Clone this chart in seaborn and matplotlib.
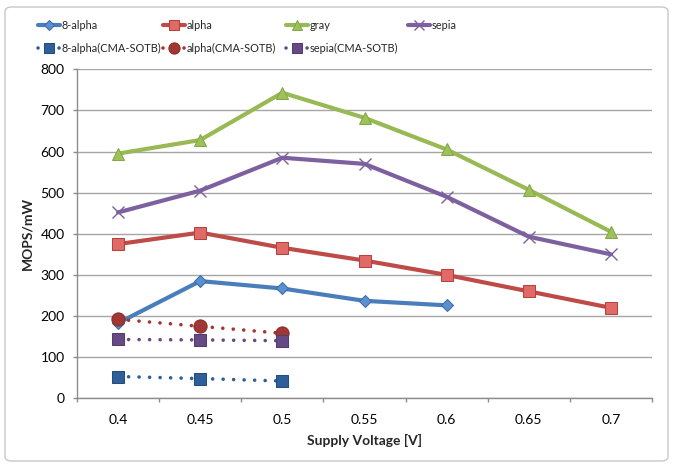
import matplotlib
matplotlib.use("Agg")
import matplotlib.pyplot as plt
import seaborn as sns
import numpy as np
from matplotlib.patches import FancyBboxPatch

voltages = [0.4, 0.45, 0.5, 0.55, 0.6, 0.65, 0.7]
tick_labels = ["0.4", "0.45", "0.5", "0.55", "0.6", "0.65", "0.7"]

alpha8 = [183, 285, 267, 237, 226]
alpha = [375, 403, 366, 335, 300, 260, 220]
gray = [595, 628, 743, 682, 605, 507, 405]
sepia = [452, 505, 585, 570, 490, 393, 350]
alpha8_cma = [53, 48, 42]
alpha_cma = [192, 175, 158]
sepia_cma = [143, 142, 140]

sns.set_theme(style="white")
plt.rcParams['font.family'] = ['Lato', 'DejaVu Sans']

fig = plt.figure(figsize=(6.73, 4.66), dpi=100)
ax = fig.add_axes([77/673, 1-398.3/466, (652-77)/673, (398.3-69.3)/466])

solid = dict(lw=3.0, solid_capstyle='round', solid_joinstyle='round')
dotted = dict(lw=2.6, linestyle=(0, (0.01, 2.9)), dash_capstyle='round')

series = [
    ("8-alpha", voltages[:len(alpha8)], alpha8, dict(color="#4A7EBB", marker="D", markersize=6.5,
        markerfacecolor="#5B8FD0", markeredgecolor="#3C6DA8", **solid)),
    ("alpha", voltages, alpha, dict(color="#BE4B48", marker="s", markersize=8.5,
        markerfacecolor="#E06A66", markeredgecolor="#B8403D", **solid)),
    ("gray", voltages, gray, dict(color="#98B954", marker="^", markersize=9,
        markerfacecolor="#9DC25A", markeredgecolor="#86A64A", **solid)),
    ("sepia", voltages, sepia, dict(color="#7D60A0", marker="x", markersize=9,
        markeredgewidth=1.0, markeredgecolor="#7D60A0", **solid)),
    ("8-alpha(CMA-SOTB)", voltages[:3], alpha8_cma, dict(color="#2E5F98", marker="s", markersize=9,
        markerfacecolor="#2E5F98", markeredgecolor="#244C7C", **dotted)),
    ("alpha(CMA-SOTB)", voltages[:3], alpha_cma, dict(color="#A23632", marker="o", markersize=9.5,
        markerfacecolor="#A23632", markeredgecolor="#8A2C29", **dotted)),
    ("sepia(CMA-SOTB)", voltages[:3], sepia_cma, dict(color="#664A86", marker="s", markersize=9,
        markerfacecolor="#664A86", markeredgecolor="#543C70", **dotted)),
]

for name, xs, ys, kw in series:
    sns.lineplot(x=xs, y=ys, ax=ax, label=name, zorder=3, **kw)

handles, labels = ax.get_legend_handles_labels()
if ax.get_legend() is not None:
    ax.get_legend().remove()
hmap = dict(zip(labels, handles))

ax.set_xlim(0.375, 0.725)
ax.set_ylim(0, 800)
ax.set_yticks(range(0, 801, 100))
ax.set_xticks(voltages)
ax.set_xticklabels(tick_labels)
ax.set_xticks(np.arange(0.375, 0.7251, 0.05), minor=True)
ax.tick_params(axis='x', which='major', length=0, labelsize=10, pad=11, colors="#000000")
ax.tick_params(axis='x', which='minor', length=3, width=1, color="#8C8C8C", bottom=True)
ax.tick_params(axis='y', which='major', length=3, width=1, color="#8C8C8C", left=True, labelsize=10, pad=6)
for t in ax.get_yticklabels():
    t.set_color("#000000")

ax.grid(axis='y', color="#A6A6A6", lw=1.0, zorder=0)
ax.grid(axis='x', visible=False)
for s in ["top", "right"]:
    ax.spines[s].set_visible(False)
for s in ["left", "bottom"]:
    ax.spines[s].set_color("#8C8C8C")
    ax.spines[s].set_linewidth(1.0)
ax.set_facecolor("white")

ax.set_xlabel("Supply Voltage [V]", fontsize=10, fontweight="bold", labelpad=6)
ax.set_ylabel("MOPS/mW", fontsize=10, fontweight="bold", labelpad=5)

columns = [["8-alpha", "8-alpha(CMA-SOTB)"], ["alpha", "alpha(CMA-SOTB)"],
           ["gray", "sepia(CMA-SOTB)"], ["sepia"]]
col_x = [38, 163, 286, 408]
for names, cx in zip(columns, col_x):
    leg = fig.legend([hmap[n] for n in names], names, loc="upper left",
                     bbox_to_anchor=(cx/673, 1-20/466), frameon=False, fontsize=7.9,
                     handlelength=2.0, handletextpad=0.12, labelspacing=1.1,
                     borderpad=0, borderaxespad=0, markerscale=0.85)

border = FancyBboxPatch((5/673, 5/466), 663/673, 454/466, boxstyle="round,pad=0,rounding_size=0.01",
                        transform=fig.transFigure, fill=False, edgecolor="#C8C8C8", lw=1.0)
fig.patches.append(border)

fig.savefig("out.png", dpi=100)
